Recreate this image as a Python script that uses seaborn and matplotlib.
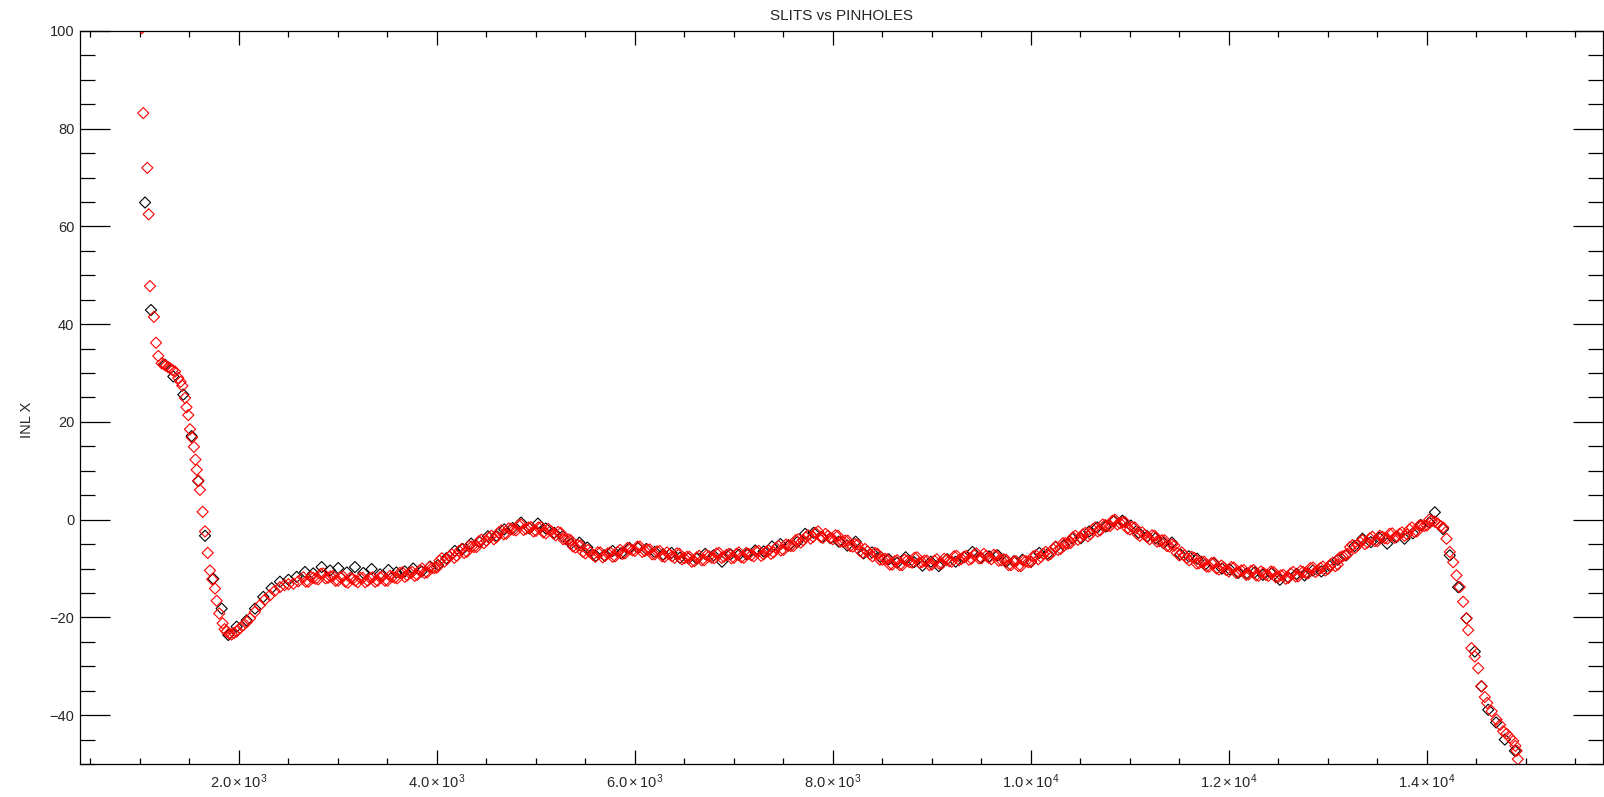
import matplotlib
matplotlib.use('Agg')
import matplotlib.pyplot as plt
import matplotlib.ticker as mticker
import pandas as pd
import seaborn as sns

# ── Data ─────────────────────────────────────────────────────────────────────
# pinholes (red diamonds)
RED_X = [1020, 1033, 1074, 1088, 1101, 1141, 1162, 1185, 1219, 1240, 1263, 1285,
         1303, 1330, 1354, 1387, 1410, 1428, 1455, 1470, 1488, 1505, 1525, 1545,
         1560, 1573, 1590, 1606, 1633, 1657, 1684, 1707, 1730, 1758, 1775, 1801,
         1835, 1855, 1875, 1900, 1926, 1950, 1976, 2010, 2044, 2080, 2111, 2160,
         2212, 2260, 2313, 2360, 2414, 2460, 2500, 2550, 2600,
         2650, 2700, 2750, 2800, 2850, 2900, 2950, 3000,
         3050, 3100, 3150, 3200, 3250, 3300, 3350, 3400,
         3450, 3500, 3550, 3600, 3650, 3700, 3750, 3800,
         3850, 3900, 3950, 4000, 4050, 4100, 4150, 4200,
         4250, 4300, 4350, 4400, 4450, 4500, 4550, 4600,
         4650, 4700, 4750, 4800, 4850, 4900, 4950, 5000,
         5050, 5100, 5150, 5200, 5250, 5300, 5350, 5400,
         5450, 5500, 5550, 5600, 5650, 5700, 5750, 5800,
         5850, 5900, 5950, 6000, 6050, 6100, 6150, 6200,
         6250, 6300, 6350, 6400, 6450, 6500, 6550, 6600,
         6650, 6700, 6750, 6800, 6850, 6900, 6950, 7000,
         7050, 7100, 7150, 7200, 7250, 7300, 7350, 7400,
         7450, 7500, 7550, 7600, 7650, 7700, 7750, 7800,
         7850, 7900, 7950, 8000, 8050, 8100, 8150, 8200,
         8250, 8300, 8350, 8400, 8450, 8500, 8550, 8600,
         8650, 8700, 8750, 8800, 8850, 8900, 8950, 9000,
         9050, 9100, 9150, 9200, 9250, 9300, 9350, 9400,
         9450, 9500, 9550, 9600, 9650, 9700, 9750, 9800,
         9850, 9900, 9950, 10000, 10050, 10100, 10150, 10200,
         10250, 10300, 10350, 10400, 10450, 10500, 10550, 10600,
         10650, 10700, 10750, 10800, 10850, 10900, 10950, 11000,
         11050, 11100, 11150, 11200, 11250, 11300, 11350, 11400,
         11450, 11500, 11550, 11600, 11650, 11700, 11750, 11800,
         11850, 11900, 11950, 12000, 12050, 12100, 12150, 12200,
         12250, 12300, 12350, 12400, 12450, 12500, 12550, 12600,
         12650, 12700, 12750, 12800, 12850, 12900, 12950, 13000,
         13050, 13100, 13150, 13200, 13250, 13300, 13350, 13400,
         13450, 13500, 13550, 13600, 13650, 13700, 13750, 13800,
         13850, 13900, 13950, 14000, 14050, 14080, 14110, 14140,
         14165, 14199, 14232, 14266, 14300, 14333, 14367, 14401, 14418, 14451,
         14485, 14519, 14552, 14586, 14610, 14655, 14704, 14740, 14771, 14805,
         14840, 14873, 14895, 14907, 14920]
RED_Y = [100.6, 83.2, 72.0, 62.5, 47.8, 41.5, 36.2, 33.5, 32.0, 31.8, 31.5, 31.2,
         31.0, 30.6, 30.3, 29.0, 28.2, 27.4, 24.9, 23.0, 21.4, 18.5, 16.8, 14.9,
         12.3, 10.2, 8.0, 6.1, 1.6, -2.4, -6.8, -10.4, -12.2, -14.1, -16.6, -19.2,
         -21.2, -22.4, -22.9, -23.3, -23.5, -23.2, -22.9, -22.2, -21.6, -20.9, -20.2, -18.9,
         -17.5, -16.4, -15.5, -14.6, -13.8, -13.4, -13.2, -13.1, -12.6,
         -11.8, -12.7, -11.9, -12.2, -11.0, -11.9, -11.5, -12.5,
         -11.6, -12.9, -12.1, -12.8, -11.9, -12.5, -11.8, -12.5,
         -11.6, -12.5, -11.7, -12.0, -10.8, -11.4, -10.7, -11.3,
         -10.0, -10.8, -9.9, -9.8, -7.9, -8.1, -7.1, -7.4,
         -6.0, -6.6, -5.5, -5.6, -4.1, -4.3, -3.3, -3.6,
         -2.2, -2.9, -1.9, -2.2, -1.0, -1.9, -1.5, -2.3,
         -1.5, -2.8, -2.3, -3.2, -2.7, -4.0, -4.2, -5.7,
         -5.3, -6.9, -6.7, -7.6, -6.7, -7.4, -6.7, -7.5,
         -6.2, -6.9, -6.0, -6.4, -5.5, -6.4, -6.1, -7.1,
         -6.4, -7.6, -7.1, -7.8, -7.0, -7.9, -7.6, -8.5,
         -7.4, -8.3, -7.5, -7.9, -6.8, -7.6, -7.0, -7.8,
         -6.7, -7.8, -7.0, -7.5, -6.4, -7.1, -6.3, -6.7,
         -5.4, -6.2, -5.2, -5.4, -4.0, -4.2, -3.2, -3.5,
         -2.4, -3.7, -3.3, -4.0, -3.3, -4.5, -4.3, -5.5,
         -5.1, -6.8, -6.5, -7.5, -7.0, -8.2, -8.1, -9.2,
         -8.3, -9.3, -8.4, -8.8, -7.7, -8.7, -8.4, -9.2,
         -8.1, -9.0, -8.2, -8.6, -7.4, -8.0, -7.4, -8.0,
         -6.9, -7.9, -7.4, -8.1, -7.3, -8.3, -8.2, -9.3,
         -8.5, -9.5, -8.5, -8.7, -7.3, -7.6, -6.6, -7.0,
         -5.5, -6.0, -4.8, -4.8, -3.3, -3.6, -2.7, -3.0,
         -1.6, -2.2, -1.1, -1.3, 0.0, -0.7, -0.5, -2.0,
         -1.6, -3.3, -3.1, -4.0, -3.3, -4.4, -4.2, -5.5,
         -5.3, -7.3, -7.3, -8.3, -7.8, -8.9, -8.6, -9.6,
         -8.8, -10.2, -9.8, -10.6, -9.8, -10.7, -10.3, -11.2,
         -10.3, -11.5, -10.9, -11.5, -10.7, -11.7, -11.3, -11.9,
         -10.7, -11.6, -10.7, -11.0, -9.8, -10.4, -9.6, -10.1,
         -8.8, -9.2, -7.5, -7.0, -5.2, -5.2, -4.2, -4.7,
         -3.5, -4.4, -3.5, -3.9, -2.8, -3.4, -2.6, -3.0,
         -1.6, -2.4, -1.2, -1.2, -0.3, -0.4, -0.8, -1.3,
         -1.6, -3.9, -6.6, -8.7, -11.4, -13.8, -16.8, -20.2, -22.6, -26.3,
         -28.0, -30.4, -34.1, -36.3, -37.5, -39.2, -40.9, -42.0, -43.3, -43.8,
         -44.6, -45.3, -46.3, -47.3, -49.0]

# pinholes in between, where the red band is thickest
RED_MID_X = [2675, 2725, 2775, 2825, 2875, 2925, 2975, 3025,
             3075, 3125, 3175, 3225, 3275, 3325, 3375, 3425,
             3475, 3525, 3575, 3625, 3675, 3725, 3775, 3825,
             3875, 3925, 3975, 4025, 4075, 4125, 4175, 4225,
             4275, 4325, 4375, 4425, 4475, 4525, 4575, 4625,
             4675, 4725, 4775, 4825, 4875, 4925, 4975, 5025,
             5075, 5125, 5175, 5225, 5275, 5325, 5375, 5425,
             5475, 5525, 5575, 5625, 5675, 5725, 5775, 5825,
             5875, 5925, 5975, 6025, 6075, 6125, 6175, 6225,
             6275, 6325, 6375, 6425, 6475, 6525, 6575, 6625,
             6675, 6725, 6775, 6825, 6875, 6925, 6975, 7025,
             7075, 7125, 7175, 7225, 7275, 7325, 7375, 7425,
             7475, 7525, 7575, 7625, 7675, 7725, 7775, 7825,
             7875, 7925, 7975, 8025, 8075, 8125, 8175, 8225,
             8275, 8325, 8375, 8425, 8475, 8525, 8575, 8625,
             8675, 8725, 8775, 8825, 8875, 8925, 8975, 9025,
             9075, 9125, 9175, 9225, 9275, 9325, 9375, 9425,
             9475, 9525, 9575, 9625, 9675, 9725, 9775, 9825,
             9875, 9925, 9975, 10025, 10075, 10125, 10175, 10225,
             10275, 10325, 10375, 10425, 10475, 10525, 10575, 10625,
             10675, 10725, 10775, 10825, 10875, 10925, 10975, 11025,
             11075, 11125, 11175, 11225, 11275, 11325, 11375, 11425,
             11475, 11525, 11575, 11625, 11675, 11725, 11775, 11825,
             11875, 11925, 11975, 12025, 12075, 12125, 12175, 12225,
             12275, 12325, 12375, 12425, 12475, 12525, 12575, 12625,
             12675, 12725, 12775, 12825, 12875, 12925, 12975, 13025,
             13075, 13125, 13175, 13225, 13275, 13325, 13375, 13425,
             13475, 13525, 13575, 13625, 13675, 13725, 13775, 13825,
             13875, 13925, 13975, 14025]
RED_MID_Y = [-12.7, -11.7, -12.1, -11.1, -12.0, -11.6, -12.5, -11.8,
             -12.7, -11.9, -12.5, -11.9, -12.8, -12.0, -12.7, -11.8,
             -12.5, -11.5, -11.9, -10.9, -11.7, -10.9, -11.5, -10.4,
             -10.9, -9.7, -9.9, -8.4, -8.6, -7.5, -7.8, -6.4,
             -6.8, -5.4, -5.6, -4.4, -4.8, -3.7, -4.0, -2.6,
             -3.0, -1.8, -2.1, -1.1, -2.1, -1.6, -2.4, -1.6,
             -2.6, -1.9, -2.8, -2.5, -4.0, -4.0, -5.5, -5.2,
             -6.6, -6.2, -7.2, -6.7, -7.7, -6.9, -7.6, -6.6,
             -7.0, -5.8, -6.3, -5.5, -6.6, -6.1, -7.1, -6.5,
             -7.5, -6.7, -7.5, -6.9, -8.1, -7.6, -8.6, -7.7,
             -8.3, -7.3, -7.8, -6.9, -7.8, -7.2, -7.9, -7.0,
             -7.7, -6.8, -7.3, -6.5, -7.4, -6.6, -7.0, -5.8,
             -6.3, -5.1, -5.4, -4.2, -4.7, -3.6, -3.9, -2.7,
             -3.5, -2.9, -3.7, -3.2, -4.5, -4.3, -5.4, -5.0,
             -6.4, -6.0, -7.1, -6.8, -8.2, -8.0, -9.2, -8.5,
             -9.3, -8.2, -8.7, -7.8, -8.8, -8.4, -9.3, -8.4,
             -9.0, -8.0, -8.5, -7.5, -8.3, -7.6, -8.2, -7.2,
             -7.9, -7.0, -7.8, -7.2, -8.4, -8.1, -9.3, -8.6,
             -9.5, -8.4, -8.7, -7.5, -8.1, -7.0, -7.3, -6.0,
             -6.2, -4.8, -4.9, -3.6, -4.1, -3.0, -3.4, -2.0,
             -2.4, -1.0, -1.3, -0.2, -1.0, -0.5, -1.8, -1.5,
             -2.9, -2.6, -3.6, -3.2, -4.5, -4.2, -5.4, -5.1,
             -6.8, -6.7, -7.9, -7.6, -9.0, -8.6, -9.6, -8.9,
             -10.0, -9.4, -10.3, -9.7, -10.9, -10.4, -11.3, -10.5,
             -11.4, -10.6, -11.3, -10.6, -11.8, -11.4, -12.1, -11.0,
             -11.6, -10.5, -10.9, -9.9, -10.7, -9.9, -10.4, -9.2,
             -9.5, -7.7, -7.3, -5.6, -5.8, -4.6, -5.0, -3.8,
             -4.4, -3.3, -3.8, -2.9, -3.7, -2.9, -3.3, -2.0,
             -2.5, -1.2, -1.3, 0.0]

# slits (black diamonds)
BLACK_X = [1051, 1111, 1253, 1337, 1438, 1522, 1589, 1657, 1741, 1825, 1892, 1976,
           2078, 2162, 2246, 2330, 2414, 2500, 2583, 2667, 2750, 2835, 2920, 3003,
           3090, 3172, 3256, 3340, 3425, 3510, 3590, 3675, 3760, 3845, 3930, 4010,
           4095, 4180, 4260, 4345, 4430, 4515, 4600, 4680, 4765, 4850, 4935, 5020,
           5100, 5185, 5270, 5355, 5440, 5520, 5605, 5690, 5775, 5860, 5945, 6030,
           6115, 6200, 6285, 6370, 6455, 6540, 6625, 6710, 6795, 6880, 6965, 7050,
           7130, 7215, 7300, 7385, 7470, 7555, 7640, 7720, 7805, 7890, 7975, 8060,
           8145, 8230, 8310, 8395, 8480, 8565, 8650, 8735, 8820, 8905, 8990, 9070,
           9155, 9240, 9325, 9410, 9495, 9580, 9665, 9750, 9830, 9915, 10000, 10085,
           10170, 10250, 10335, 10420, 10505, 10590, 10670, 10755, 10840, 10925, 11010,
           11090, 11175, 11260, 11340, 11425, 11510, 11595, 11680, 11760, 11845, 11930,
           12010, 12095, 12180, 12260, 12345, 12430, 12515, 12600, 12685, 12765, 12850,
           12935, 13020, 13100, 13185, 13270, 13350, 13435, 13520, 13600, 13690, 13775,
           13860, 13940, 14025, 14081, 14165, 14232, 14316, 14401, 14485, 14552, 14620,
           14700, 14788, 14890]
BLACK_Y = [64.9, 42.9, 31.7, 29.3, 25.6, 17.1, 7.9, -3.3, -12.1, -18.2, -23.6, -21.9,
           -20.6, -18.2, -15.8, -14.0, -12.7, -12.3, -11.7, -10.7, -11.0, -9.7, -10.4, -9.9,
           -10.8, -9.7, -10.9, -10.1, -11.2, -10.3, -10.8, -10.6, -10.0, -10.6, -9.6, -9.3,
           -7.9, -6.4, -6.0, -4.9, -4.6, -3.4, -3.3, -2.0, -1.7, -0.6, -1.8, -0.8,
           -1.8, -2.7, -3.4, -4.9, -4.7, -5.7, -7.4, -7.3, -6.4, -6.9, -5.8, -5.8,
           -6.0, -6.6, -7.1, -6.8, -7.8, -7.9, -8.0, -7.0, -7.3, -8.6, -7.1, -7.2,
           -7.1, -6.3, -6.5, -5.5, -5.0, -5.3, -4.6, -2.9, -2.7, -3.6, -3.8, -4.5,
           -5.3, -4.5, -6.9, -6.7, -7.6, -8.1, -8.8, -7.7, -8.7, -9.4, -8.6, -9.5,
           -8.1, -8.6, -7.7, -6.6, -7.8, -7.5, -7.3, -8.6, -8.5, -8.2, -8.6, -6.8,
           -7.0, -5.6, -5.3, -3.9, -3.8, -2.4, -1.6, -1.4, -0.3, -0.2, -1.2,
           -2.7, -3.4, -3.8, -4.8, -4.7, -7.1, -7.5, -8.0, -9.2, -8.9, -10.0,
           -10.2, -10.9, -11.0, -10.8, -11.3, -11.0, -12.3, -11.8, -11.1, -11.4, -10.4,
           -10.6, -9.5, -8.2, -7.3, -5.4, -3.9, -4.6, -3.7, -4.9, -3.6, -3.9,
           -2.8, -1.1, -0.6, 1.5, -1.9, -7.3, -13.8, -20.2, -27.0, -34.1, -38.9,
           -41.5, -45.0, -47.3]

X_TICKS = [2000, 4000, 6000, 8000, 10000, 12000, 14000]

red = pd.DataFrame({'x': RED_X + RED_MID_X, 'y': RED_Y + RED_MID_Y})
black = pd.DataFrame({'x': BLACK_X, 'y': BLACK_Y})

# ── Style ────────────────────────────────────────────────────────────────────
sns.set_style('ticks')
plt.rcParams['font.family'] = ['Liberation Sans', 'DejaVu Sans']
plt.rcParams['mathtext.fontset'] = 'custom'
plt.rcParams['mathtext.rm'] = 'Liberation Sans'
plt.rcParams['mathtext.it'] = 'Liberation Sans'

fig = plt.figure(figsize=(16.04, 7.97), dpi=100)
ax = fig.add_axes([80 / 1604, 33 / 797, 1523 / 1604, 733 / 797])

sns.scatterplot(data=black, x='x', y='y', ax=ax, marker='D', s=32,
                facecolors='none', edgecolor='black', linewidth=0.8)
sns.scatterplot(data=red, x='x', y='y', ax=ax, marker='D', s=32,
                facecolors='none', edgecolor='red', linewidth=0.8)

ax.set_xlim(394, 15780)
ax.set_ylim(-50, 100)

ax.xaxis.set_major_locator(mticker.FixedLocator(X_TICKS))
ax.xaxis.set_minor_locator(mticker.MultipleLocator(500))
ax.yaxis.set_major_locator(mticker.MultipleLocator(20))
ax.yaxis.set_minor_locator(mticker.MultipleLocator(5))


def sci(v, _):
    exp = len(str(int(v))) - 1
    return rf'${v / 10 ** exp:.1f}\times10^{{{exp}}}$'


ax.xaxis.set_major_formatter(mticker.FuncFormatter(sci))

for side in ['top', 'right', 'bottom', 'left']:
    ax.spines[side].set_visible(True)
    ax.spines[side].set_linewidth(0.9)
    ax.spines[side].set_color('black')

ax.tick_params(axis='both', which='both', direction='in', top=True, right=True,
               width=0.9, color='black', labelsize=10.5)
ax.tick_params(axis='x', which='major', length=10, pad=6)
ax.tick_params(axis='x', which='minor', length=4.5)
ax.tick_params(axis='y', which='major', length=21.5, pad=4)
ax.tick_params(axis='y', which='minor', length=11)

ax.set_xlabel('')
ax.set_ylabel('INL X', fontsize=10.5)
ax.yaxis.set_label_coords(-0.03, 0.47)
ax.set_title('SLITS vs PINHOLES', fontsize=11, pad=8)
ax.grid(False)

fig.savefig('out.png', dpi=100, facecolor='white')
